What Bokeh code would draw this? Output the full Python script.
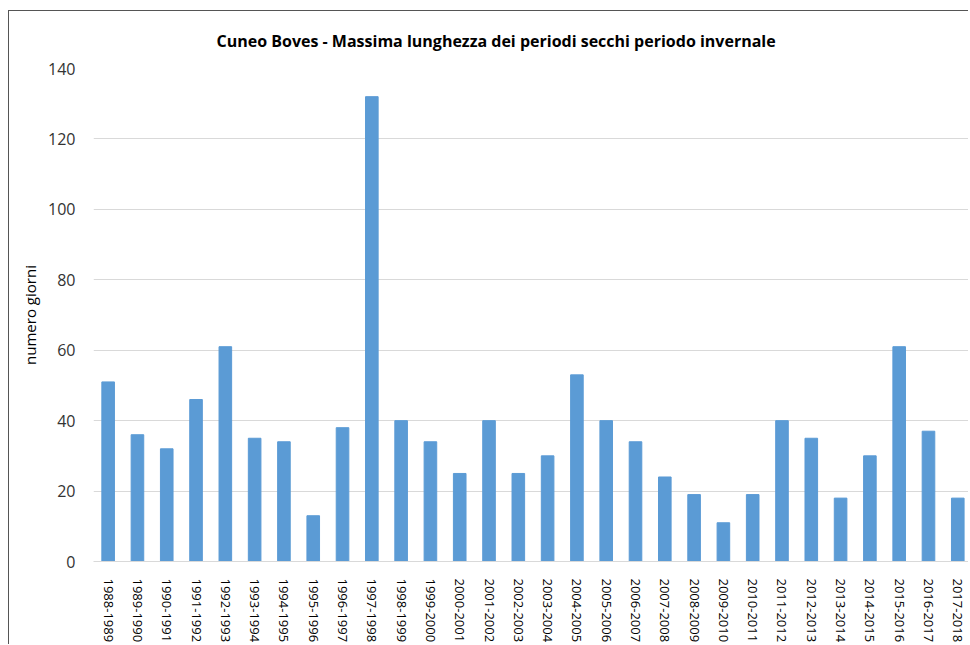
from bokeh.plotting import figure
from bokeh.embed import file_html
from bokeh.resources import INLINE
from bokeh.models import ColumnDataSource, Range1d, SingleIntervalTicker, FixedTicker

seasons = ["1988-1989", "1989-1990", "1990-1991", "1991-1992", "1992-1993", "1993-1994",
           "1994-1995", "1995-1996", "1996-1997", "1997-1998", "1998-1999", "1999-2000",
           "2000-2001", "2001-2002", "2002-2003", "2003-2004", "2004-2005", "2005-2006",
           "2006-2007", "2007-2008", "2008-2009", "2009-2010", "2010-2011", "2011-2012",
           "2012-2013", "2013-2014", "2014-2015", "2015-2016", "2016-2017", "2017-2018"]
giorni = [51, 36, 32, 46, 61, 35, 34, 13, 38, 132, 40, 34, 25, 40, 25, 30, 53, 40,
          34, 24, 19, 11, 19, 40, 35, 18, 30, 61, 37, 18]
titolo = "Cuneo Boves - Massima lunghezza dei periodi secchi periodo invernale"

FONT = "Open Sans"
idx = list(range(len(seasons)))
src = ColumnDataSource(dict(x=idx, y=giorni))

p = figure(width=960, height=634, x_range=Range1d(-0.5, 29.4),
           y_range=Range1d(0, 140), output_backend="svg", toolbar_location=None,
           min_border_left=84, min_border_right=0, min_border_top=57, min_border_bottom=10)
p.styles = {"border-left": "1px solid #555555", "border-top": "1px solid #555555",
            "margin-left": "8px", "margin-top": "10px"}

p.vbar(x="x", top="y", width=0.43, source=src, color="#5b9bd5")

p.title.text = titolo
p.title.align = "left"
p.title.vertical_align = "bottom"
p.title.offset = 123
p.title.text_font = FONT
p.title.text_font_style = "bold"
p.title.text_font_size = "16px"
p.title.text_color = "#000000"
p.title.standoff = 33

p.outline_line_color = None
p.xgrid.grid_line_color = None
p.ygrid.grid_line_color = "#d9d9d9"
p.ygrid.grid_line_width = 1

p.yaxis.ticker = SingleIntervalTicker(interval=20)
p.yaxis.axis_line_color = None
p.yaxis.major_tick_line_color = None
p.yaxis.minor_tick_line_color = None
p.yaxis.major_label_standoff = 12
p.yaxis.major_label_text_font = FONT
p.yaxis.major_label_text_font_size = "16px"
p.yaxis.major_label_text_color = "#333333"
p.yaxis.axis_label = "numero giorni"
p.yaxis.axis_label_text_font = FONT
p.yaxis.axis_label_text_font_size = "15px"
p.yaxis.axis_label_text_font_style = "normal"
p.yaxis.axis_label_text_color = "#000000"
p.yaxis.axis_label_standoff = 5

p.xaxis.ticker = FixedTicker(ticks=idx)
p.xaxis.major_label_overrides = {i: s for i, s in zip(idx, seasons)}
p.xaxis.axis_line_color = "#d9d9d9"
p.xaxis.major_tick_line_color = None
p.xaxis.minor_tick_line_color = None
p.xaxis.major_label_orientation = "vertical"
p.xaxis.major_label_standoff = 11
p.xaxis.major_label_text_font = FONT
p.xaxis.major_label_text_font_size = "13px"
p.xaxis.major_label_text_color = "#000000"

open("out.html", "w").write(file_html(p, INLINE))
